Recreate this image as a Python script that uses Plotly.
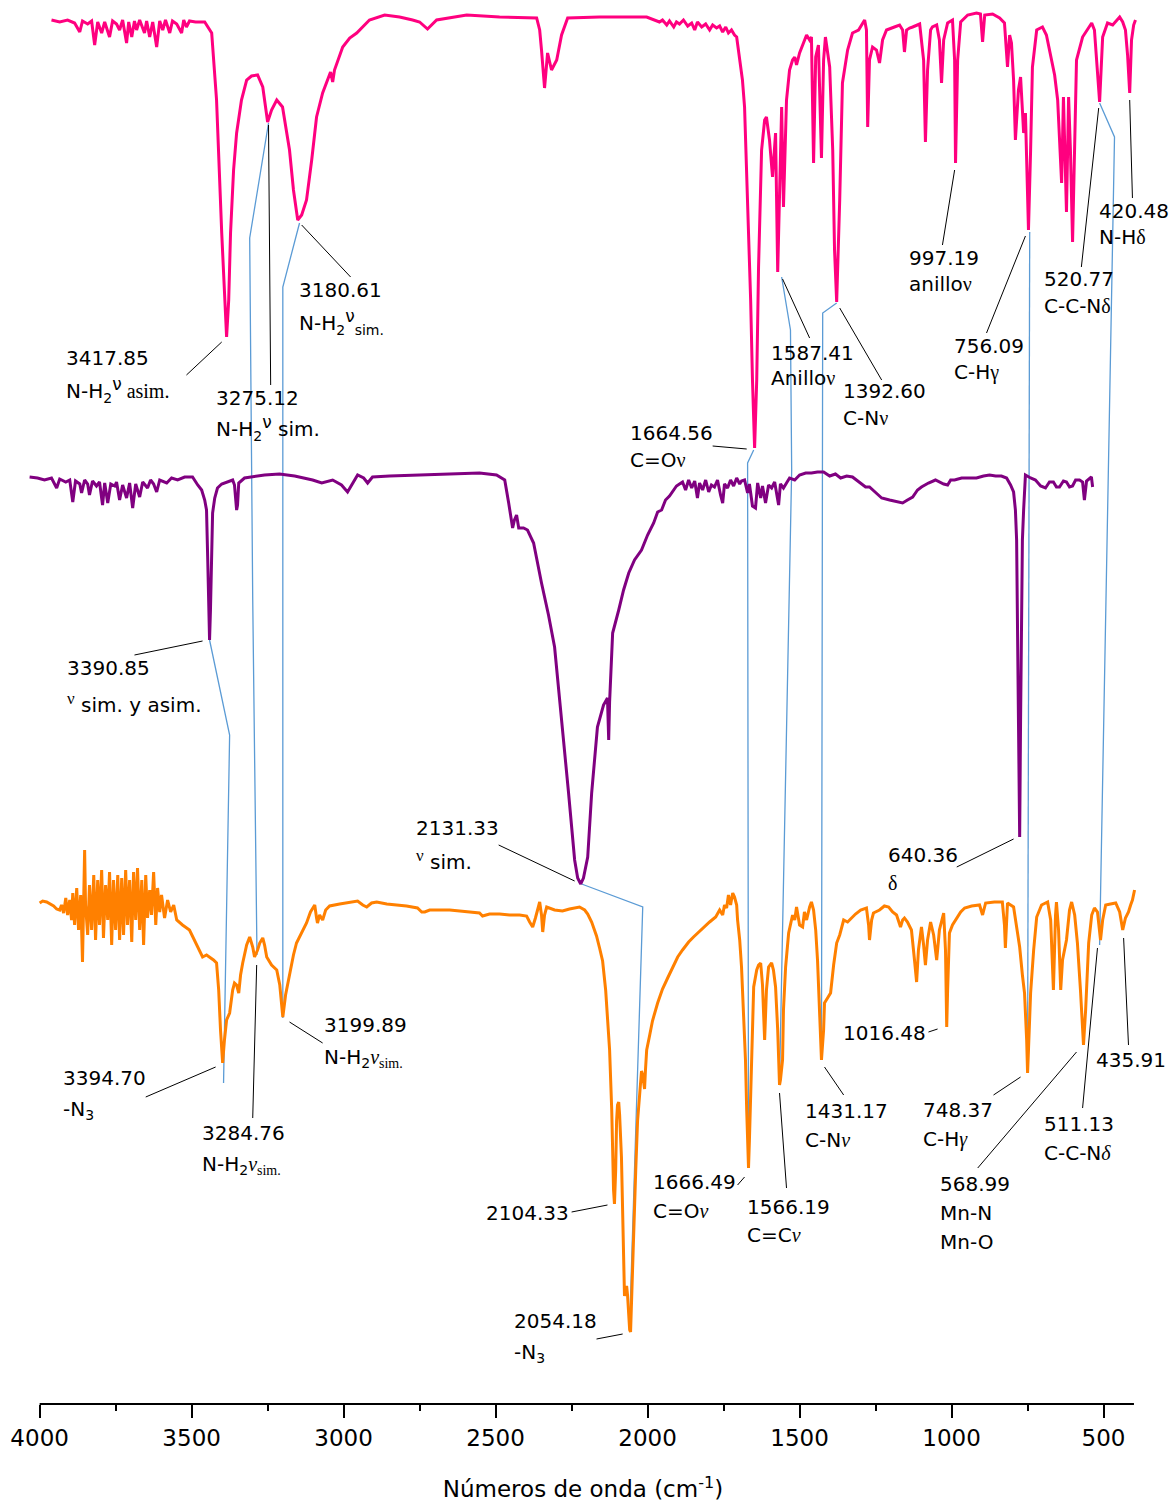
import plotly.graph_objects as go

# ---------------- data (wavenumber in cm-1, offset absorbance in arbitrary units, larger = lower on page) -------------
pink_wn = [3961,3934,3908,3885,3868,3859,3842,3829,3819,3809,3796,3786,3770,3760,3747,3737,3727,3714,3707,3697,
           3688,3681,3671,3655,3648,3638,3628,3615,3605,3595,3586,3572,3563,3549,3533,3526,3517,3507,3487,3457,
           3434,3418,3401,3391,3385,3378,3372,3362,3352,3336,3319,3303,3283,3266,3250,3237,3220,3201,3188,3178,
           3165,3151,3138,3122,3105,3089,3069,3053,3043,3036,3030,3003,2980,2957,2915,2865,2816,2773,2750,2724,
           2694,2595,2487,2365,2355,2349,2339,2329,2316,2299,2283,2263,2158,2003,1961,
           1951,1937,1928,1914,1905,1895,1882,1868,1855,1845,1836,1822,1809,1796,1786,1773,1763,1753,1743,1734,1724,1714,
           1707,1697,1688,1681,1671,1661,1655,1648,1641,1635,1625,1615,1609,1599,1589,1582,1579,1572,1566,1559,
           1553,1543,1533,1523,1516,1510,1500,1490,1477,1467,1461,1454,1447,1438,1428,1421,1415,1401,1391,1385,
           1378,1368,1359,1342,1326,1306,1286,1280,1276,1270,1260,1247,1237,1227,1214,1188,1171,1161,1155,1148,
           1138,1128,1105,1092,1086,1079,1069,1063,1049,1040,1033,1026,1013,997,990,987,980,970,947,918,
           905,898,891,865,842,826,816,809,803,796,790,780,773,767,763,757,747,740,734,720,
           701,688,678,661,651,645,638,632,622,615,609,602,595,589,569,553,539,530,523,513,
           503,487,470,457,447,437,428,421,414,408,401,395]
pink_abs = [20,22,20,23,32,21,24,21,45,22,33,22,37,21,24,30,20,43,22,37,
            21,30,20,33,21,37,22,47,21,30,20,33,21,24,33,20,27,21,22,22,
            33,100,233,300,337,300,233,170,133,100,80,76,75,87,122,110,100,107,130,150,
            190,220,215,200,160,117,93,80,72,82,70,47,38,33,20,15,17,20,22,29,
            20,15,17,18,30,50,88,53,70,60,35,18,17,17,22,
            20,25,21,27,22,24,20,26,23,30,22,27,24,30,25,28,26,32,27,33,30,35,
            37,57,80,107,200,300,380,448,380,267,150,120,117,140,177,140,133,272,200,107,
            207,100,70,60,57,65,53,45,35,40,37,163,57,45,158,60,37,67,150,250,
            302,200,83,50,33,30,20,30,127,60,47,50,63,40,30,27,25,30,52,30,
            28,27,24,60,142,70,30,27,25,40,83,40,23,20,60,163,60,22,15,13,
            14,42,15,14,18,23,67,35,43,80,140,90,77,110,133,113,230,150,67,30,
            27,35,50,75,100,140,183,97,212,97,150,242,130,60,37,30,23,30,60,102,
            37,23,25,20,17,22,30,55,93,40,25,20]

purple_wn = [4033,4007,3984,3961,3944,3934,3914,3901,3891,3882,3868,3862,3852,3842,3836,3826,3813,3803,3793,3786,
             3776,3766,3753,3747,3737,3727,3714,3704,3694,3684,3671,3661,3645,3635,3625,3615,3605,3592,3582,3566,
             3546,3523,3497,
             3480,3467,3457,3451,3447,3444,3441,3438,3434,3431,3424,3415,3401,3385,3365,3359,3355,3352,3349,3345,
             3326,3299,3260,3211,3161,3102,3072,3036,3007,2987,2974,2954,2934,2921,2905,2849,2750,2651,2553,2497,
             2470,2457,2444,2438,2431,2424,2408,2395,2375,2349,2326,2306,2280,2260,2240,2230,2220,2211,2197,2184,
             2165,2145,2132,2128,2125,2115,2095,2079,2062,2043,2020,2000,1980,1967,1954,1941,1928,1918,1905,1895,1885,
             1875,1865,1855,1845,1836,1829,1819,1809,1799,1790,1780,1770,1760,1753,1747,1737,1727,1717,1707,1697,
             1691,1681,1671,1665,1655,1645,1638,1628,1622,1612,1602,1592,1582,1569,1563,1553,1543,1533,1516,
             1500,1480,1461,1441,1421,1401,1382,1365,1345,1326,1303,1283,1270,1250,1230,1204,1181,1161,1145,1128,
             1112,1099,1076,1053,1026,1013,1003,990,967,941,918,895,875,855,836,819,806,796,790,786,
             783,780,776,773,770,767,763,760,757,740,724,707,691,678,665,655,645,632,622,612,
             602,592,579,569,563,556,546,540,536]
purple_abs = [477,478,480,478,488,479,482,480,502,481,484,493,480,484,495,481,486,482,505,483,
              503,484,486,482,500,485,498,483,508,484,497,482,488,480,484,492,480,482,483,478,
              480,477,477,
              485,490,500,510,560,610,640,610,560,513,498,488,484,482,480,485,505,510,505,483,
              478,477,475,474,476,480,483,480,485,492,485,475,478,483,477,476,475,474,473,475,
              480,503,528,520,515,528,528,530,543,583,615,647,727,793,860,878,884,878,857,793,
              727,705,698,740,702,633,610,590,573,560,550,535,523,512,510,500,496,492,486,484,482,
              490,480,488,481,498,483,490,480,492,485,487,480,495,503,484,488,480,486,478,484,
              481,480,493,484,506,508,483,498,486,503,485,488,482,505,484,488,483,478,480,
              475,473,473,472,472,476,474,478,476,477,482,487,487,493,498,500,502,503,500,497,
              490,487,483,480,484,485,480,480,478,478,478,476,475,476,476,478,485,492,510,540,
              620,720,837,720,620,540,510,485,475,478,480,486,488,482,482,487,487,481,482,487,
              486,480,480,482,500,481,479,477,487]

orange_wn = [4000,3990,3977,3967,3954,3944,3934,3928,3921,3914,
             3908,3901,3895,3891,3885,3878,3872,3865,3859,3852,
             3849,3842,3836,3829,3822,3816,3809,3803,3796,3790,
             3783,3776,3770,3763,3757,3750,3743,3737,3730,3724,
             3717,3711,3704,3697,3691,3684,3678,3671,3664,3658,
             3651,3645,3638,3632,3625,3618,3612,3605,3599,3589,
             3579,3569,3559,3549,3530,3507,3484,3464,3451,3441,
             3428,3418,3411,3405,3398,3392,3385,3375,3365,3359,
             3352,3345,3339,3332,3319,3309,3299,3293,3283,3276,
             3266,3260,3253,3237,3220,3210,3200,3191,3178,3165,
             3155,3138,3122,3109,3095,3089,3086,3079,3069,3059,
             3046,3013,2990,2974,2954,2937,2924,2908,2891,2858,
             2826,2793,2757,2743,2733,2717,2684,2651,2618,2585,
             2553,2543,2520,2487,2454,2421,2398,2388,2378,2369,
             2355,2349,2345,2339,2332,2306,2280,2257,2224,2207,
             2197,2184,2168,2158,2148,2138,2132,2125,2118,2115,
             2112,2109,2105,2102,2099,2095,2092,2086,2082,2079,
             2076,2072,2069,2066,2063,2059,2056,2053,2046,2039,
             2033,2026,2020,2016,2010,2007,2003,1993,1984,1967,
             1951,1934,1918,1901,1885,1865,1849,1832,1813,1796,
             1776,1763,1753,1747,1740,1734,1727,1720,1714,1707,
             1704,1697,1691,1684,1678,1674,1671,1668,1665,1661,
             1658,1655,1651,1641,1635,1628,1622,1615,1609,1602,
             1592,1586,1579,1572,1566,1563,1556,1553,1546,1536,
             1530,1523,1516,1510,1500,1490,1484,1477,1467,1461,
             1454,1447,1441,1434,1428,1421,1418,1408,1398,1388,
             1378,1368,1355,1342,1329,1316,1299,1280,1273,1270,
             1263,1257,1237,1221,1207,1194,1181,1168,1161,1155,
             1145,1132,1122,1115,1109,1099,1092,1086,1079,1069,
             1059,1049,1040,1026,1020,1016,1013,1007,997,983,
             970,957,934,908,898,888,859,833,826,823,
             819,816,796,786,776,767,760,753,750,747,
             740,730,720,704,684,674,665,658,655,648,
             641,635,622,612,605,595,586,576,566,559,
             549,539,530,520,510,503,493,477,460,447,
             437,428,418,411,405,398]
orange_abs = [903,901,902,904,906,909,910,905,913,898,
              915,900,920,893,925,888,930,895,962,850,
              905,935,885,930,875,940,880,925,870,938,
              885,920,872,945,880,930,875,940,878,935,
              870,925,880,942,872,920,868,930,880,945,
              875,918,890,915,872,925,888,912,895,918,
              900,912,905,920,925,930,945,957,955,957,
              960,963,990,1030,1063,1040,1020,1013,990,983,
              985,993,975,963,945,937,947,957,950,943,
              938,945,957,965,970,985,1017,995,973,955,
              943,932,923,912,905,918,923,915,920,910,
              906,904,903,902,901,905,907,903,902,904,
              905,906,908,912,912,910,910,910,911,912,
              913,916,914,914,915,915,916,922,927,918,
              902,915,932,915,907,910,911,909,907,910,
              914,922,936,948,961,990,1020,1050,1110,1157,
              1190,1204,1170,1121,1105,1102,1115,1157,1220,1270,
              1296,1290,1286,1295,1315,1330,1332,1300,1229,1170,
              1121,1090,1071,1075,1089,1070,1050,1035,1021,1003,
              989,978,968,957,950,942,937,932,927,922,
              917,910,915,905,908,895,905,893,897,905,
              920,940,967,1010,1060,1110,1150,1168,1140,1100,
              1060,1020,987,970,965,963,985,1040,990,967,
              963,970,987,1030,1085,1080,1060,1010,967,933,
              925,915,920,907,925,927,912,920,907,902,
              910,930,960,1010,1060,1030,1003,998,993,965,
              943,935,920,922,918,914,910,908,925,940,
              920,913,910,906,907,912,915,927,920,918,
              922,930,960,982,950,927,945,965,940,922,
              935,960,930,913,950,1027,990,933,925,918,
              912,908,906,905,915,903,902,902,925,948,
              925,903,907,925,947,975,993,1040,1073,1050,
              993,950,917,905,902,920,990,915,902,930,
              990,960,940,910,902,915,943,990,1045,1010,
              943,915,908,912,940,920,905,904,903,912,
              930,918,912,905,900,890]

# band correlation connectors (light blue)
link_wn = [[3441, 3375, 3395], [3247, 3309, 3299, 3285], [3145, 3200, 3200], [2217, 2016, 2059],
           [1651, 1671, 1668], [1559, 1530, 1526, 1566], [1378, 1424, 1428], [743, 750], [513, 464, 513]]
link_abs = [[640, 735, 1083], [123, 238, 600, 955], [223, 287, 1018], [884, 907, 1325],
            [450, 463, 1168], [277, 330, 470, 1083], [303, 313, 1060], [232, 1073], [103, 137, 945]]

# label leader lines (black)
leader_wn = [[3517, 3401], [3240, 3247], [2977, 3138], [1786, 1674], [1467, 1556], [1230, 1368], [1030, 990],
             [885, 757], [573, 516], [405, 414], [3688, 3464], [2490, 2240], [983, 796], [3651, 3421],
             [3299, 3286], [3069, 3178], [2250, 2132], [2168, 2082], [1704, 1681], [1543, 1566], [1355, 1418],
             [1076, 1046], [862, 773], [914, 589], [569, 520], [418, 434]]
leader_abs = [[375, 342], [385, 125], [277, 225], [446, 449], [338, 279], [380, 308], [245, 170],
              [333, 236], [267, 108], [198, 100], [655, 641], [845, 881], [867, 839], [1097, 1067],
              [1118, 965], [1043, 1022], [1212, 1205], [1339, 1334], [1185, 1177], [1188, 1093], [1095, 1067],
              [1032, 1029], [1095, 1077], [1168, 1052], [1108, 948], [1045, 938]]

SERIF = "Liberation Serif"


def serif(t):
    return "<span style='font-family:" + SERIF + "'>" + t + "</span>"


NU_UP = "<sup><span style='font-size:17px'>ν</span></sup>"

label_text = [
    "3417.85", "N-H<sub>2</sub>" + NU_UP + serif(" asim."),
    "3275.12", "N-H<sub>2</sub>" + NU_UP + " sim.",
    "3180.61", "N-H<sub>2</sub>" + NU_UP + "<sub>sim.</sub>",
    "1664.56", "C=O" + serif("ν"),
    "1587.41", "Anillo" + serif("ν"),
    "1392.60", "C-N" + serif("ν"),
    "997.19", "anillo" + serif("ν"),
    "756.09", "C-H" + serif("γ"),
    "520.77", "C-C-N" + serif("δ"),
    "420.48", "N-H" + serif("δ"),
    "3390.85", serif(NU_UP) + " sim. y asim.",
    "2131.33", serif(NU_UP) + " sim.",
    "640.36", serif("δ"),
    "3394.70", "-N<sub>3</sub>",
    "3284.76", "N-H<sub>2</sub>" + serif("<i>ν</i><sub>sim.</sub>"),
    "3199.89", "N-H<sub>2</sub>" + serif("<i>ν</i><sub>sim.</sub>"),
    "2104.33",
    "2054.18", "-N<sub>3</sub>",
    "1666.49", "C=O" + serif("<i>ν</i>"),
    "1566.19", "C=C" + serif("<i>ν</i>"),
    "1431.17", "C-N" + serif("<i>ν</i>"),
    "1016.48",
    "748.37", "C-H" + serif("<i>γ</i>"),
    "568.99", "Mn-N", "Mn-O",
    "511.13", "C-C-N" + serif("<i>δ</i>"),
    "435.91",
]
label_wn = [3921, 3921, 3428, 3428, 3155, 3155, 2066, 2066, 1602, 1602, 1365, 1365, 1148, 1148,
            997, 997, 701, 701, 520, 520,
            3918, 3918, 2767, 2767, 1217, 1217,
            3931, 3931, 3474, 3474, 3072, 3072, 2253, 2447, 2447, 1990, 1990, 1678, 1678,
            1490, 1490, 1079, 1102, 1102, 1046, 1046, 1046, 701, 701, 530]
label_abs = [358, 390, 398, 428, 290, 322, 433, 460, 353, 378, 391, 418, 258, 284,
             346, 372, 279, 306, 211, 237,
             668, 703, 828, 860, 855, 883,
             1078, 1110, 1133, 1165, 1025, 1058, 1213, 1321, 1353, 1182, 1211, 1207, 1235,
             1111, 1140, 1033, 1110, 1139, 1184, 1213, 1242, 1124, 1153, 1060]
label_side = ["left"] * len(label_text)
label_side[label_text.index("2104.33")] = "right"
label_side[label_text.index("1016.48")] = "right"

major_ticks = [4000, 3500, 3000, 2500, 2000, 1500, 1000, 500]
minor_ticks = [3750, 3250, 2750, 2250, 1750, 1250, 750]

# ---------------- figure ----------------
fig = go.Figure()

for xs, ys in zip(link_wn, link_abs):
    fig.add_trace(go.Scatter(x=xs, y=ys, mode="lines", line=dict(color="#5B9BD5", width=1.3),
                             hoverinfo="skip", showlegend=False))

lx, ly = [], []
for xs, ys in zip(leader_wn, leader_abs):
    lx += xs + [None]
    ly += ys + [None]
fig.add_trace(go.Scatter(x=lx, y=ly, mode="lines", line=dict(color="black", width=1),
                         hoverinfo="skip", showlegend=False))

for xs, ys, col in [(pink_wn, pink_abs, "#FF007F"), (purple_wn, purple_abs, "#800080"),
                    (orange_wn, orange_abs, "#FF8000")]:
    fig.add_trace(go.Scatter(x=xs, y=ys, mode="lines", line=dict(color=col, width=3),
                             hoverinfo="skip", showlegend=False))

for t, x, y, side in zip(label_text, label_wn, label_abs, label_side):
    fig.add_annotation(x=x, y=y, xref="x", yref="y", text=t, showarrow=False,
                       xanchor=side, yanchor="middle",
                       font=dict(family="DejaVu Sans", size=20, color="black"))

fig.add_shape(type="line", xref="x", yref="paper", x0=4000, x1=400, y0=0, y1=0,
              line=dict(color="black", width=2))

fig.update_layout(
    width=1171, height=1504,
    margin=dict(l=29, r=34, t=0, b=100),
    plot_bgcolor="white", paper_bgcolor="white",
    showlegend=False,
    font=dict(family="DejaVu Sans", color="black"),
    xaxis=dict(range=[4035, 390], tickvals=major_ticks, ticks="outside", ticklen=13, tickwidth=2,
               tickcolor="black", showline=False, showgrid=False, zeroline=False, automargin=False,
               tickfont=dict(size=23, color="black"),
               minor=dict(tickvals=minor_ticks, ticks="outside", ticklen=6, tickwidth=2,
                          tickcolor="black", showgrid=False),
               title=dict(text="Números de onda (cm<sup>-1</sup>)", font=dict(size=23, color="black"),
                          standoff=31)),
    yaxis=dict(range=[1404, 0], visible=False),
)

fig.write_html("out.html")
